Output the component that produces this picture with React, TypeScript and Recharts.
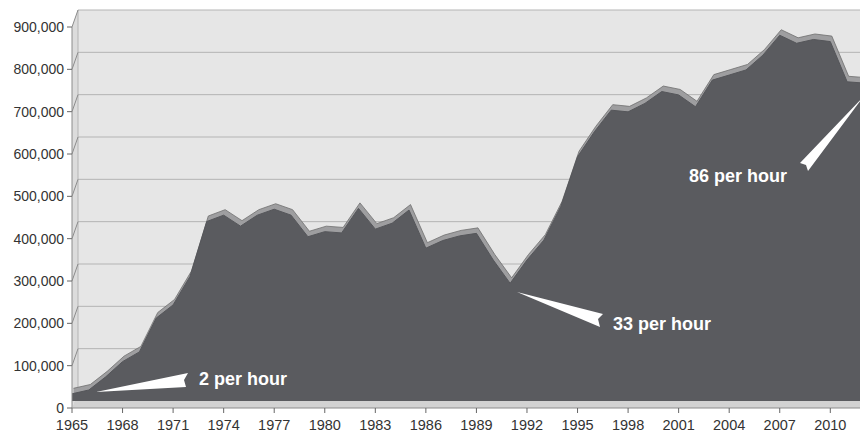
import React from "react";
import { AreaChart, Area, XAxis, YAxis, CartesianGrid } from "recharts";

const years = [
  1965, 1966, 1967, 1968, 1969, 1970, 1971, 1972, 1973, 1974, 1975, 1976,
  1977, 1978, 1979, 1980, 1981, 1982, 1983, 1984, 1985, 1986, 1987, 1988,
  1989, 1990, 1991, 1992, 1993, 1994, 1995, 1996, 1997, 1998, 1999, 2000,
  2001, 2002, 2003, 2004, 2005, 2006, 2007, 2008, 2009, 2010, 2011, 2012,
];
const totals = [
  17000, 26000, 57000, 93000, 116000, 196000, 227000, 294000, 424000, 439000,
  413000, 439000, 453000, 439000, 388000, 400000, 397000, 455000, 406000,
  420000, 451000, 361000, 379000, 390000, 396000, 333000, 278000, 333000,
  380000, 459000, 577000, 636000, 687000, 683000, 703000, 731000, 723000,
  695000, 758000, 770000, 782000, 817000, 864000, 845000, 854000, 849000,
  754000, 751000,
];
const xTicks = [1965, 1968, 1971, 1974, 1977, 1980, 1983, 1986, 1989, 1992, 1995, 1998, 2001, 2004, 2007, 2010];
const yTicks = [0, 100000, 200000, 300000, 400000, 500000, 600000, 700000, 800000, 900000];
const calloutLabels = ["2 per hour", "33 per hour", "86 per hour"];

const data = years.map((year, i) => ({ year, value: totals[i] }));

const W = 860;
const H = 433;
const LEFT = 72;
const TOP = 27;
const BOTTOM = 408;
const DX = 6;
const DY = 17;
const FONT = "'Liberation Sans', Arial, Helvetica, sans-serif";

const YTick = (props: any) => {
  const { x, y, payload } = props;
  return (
    <g>
      {payload.value !== 0 && (
        <line x1={LEFT} y1={y} x2={LEFT + DX} y2={y - DY} stroke="#8c8c8c" strokeWidth={1} />
      )}
      <text x={x} y={y} dy={5} textAnchor="end" fill="#333" fontSize={14} fontFamily={FONT}>
        {Number(payload.value).toLocaleString("en-US")}
      </text>
    </g>
  );
};

export default function App() {
  return (
    <div style={{ position: "relative", width: W, height: H, overflow: "hidden", background: "#fff" }}>
      <style>{`
        body { margin: 0; }
        .recharts-cartesian-grid { transform: translate(${DX}px, -${DY}px); }
        .ribbon { transform: translate(1.5px, -12.5px); }
        .front { transform: translate(0px, -7px); }
      `}</style>

      {/* walls and floor of the 3d box */}
      <svg width={W} height={H} style={{ position: "absolute", left: 0, top: 0 }}>
        <rect x={LEFT + DX} y={TOP - DY} width={W} height={BOTTOM - TOP} fill="#e6e6e6" />
        <polygon
          points={`${LEFT},${TOP} ${LEFT + DX},${TOP - DY} ${LEFT + DX},${BOTTOM - DY} ${LEFT},${BOTTOM}`}
          fill="#dcdcdc"
        />
        <line x1={LEFT + DX} y1={TOP - DY} x2={LEFT + DX} y2={BOTTOM - DY} stroke="#b4b4b4" />
        <polygon
          points={`${LEFT},${BOTTOM} ${W + 10},${BOTTOM} ${W + 10},${BOTTOM - DY} ${LEFT + DX},${BOTTOM - DY}`}
          fill="#d2d2d2"
        />
      </svg>

      <div style={{ position: "absolute", left: 0, top: 0 }}>
        <AreaChart width={864} height={H} data={data} margin={{ top: TOP, right: 0, bottom: 0, left: 0 }}>
          <CartesianGrid vertical={false} stroke="#b4b4b4" />
          <XAxis
            dataKey="year"
            type="number"
            domain={[1965, 2012]}
            ticks={xTicks}
            interval={0}
            height={25}
            tickSize={5}
            tickMargin={7}
            axisLine={{ stroke: "#8c8c8c" }}
            tickLine={{ stroke: "#666" }}
            tick={{ fill: "#333", fontSize: 14.5, fontFamily: FONT }}
          />
          <YAxis
            domain={[0, 900000]}
            ticks={yTicks}
            interval={0}
            width={LEFT}
            tickSize={5}
            tickMargin={3}
            axisLine={{ stroke: "#8c8c8c" }}
            tickLine={{ stroke: "#666" }}
            tick={<YTick />}
          />
          <Area
            className="ribbon"
            type="linear"
            dataKey="value"
            fill="#9e9ea0"
            fillOpacity={1}
            stroke="#6e6e6e"
            strokeWidth={0.8}
            isAnimationActive={false}
          />
          <Area
            className="front"
            type="linear"
            dataKey="value"
            fill="#5a5b5f"
            fillOpacity={1}
            stroke="#55565a"
            strokeWidth={1}
            isAnimationActive={false}
          />
        </AreaChart>
      </div>

      {/* callouts */}
      <svg width={W} height={H} style={{ position: "absolute", left: 0, top: 0, pointerEvents: "none" }}>
        <polygon points="96,392 188,373 184,380 186,387" fill="#fff" />
        <polygon points="517,292 603,314 598,319 600,327" fill="#fff" />
        <polygon points="864,96 800,163 806,165 808,171" fill="#fff" />
        <g fill="#fff" fontFamily={FONT} fontWeight="bold" fontSize={18}>
          <text x={199} y={385}>{calloutLabels[0]}</text>
          <text x={613} y={330}>{calloutLabels[1]}</text>
          <text x={689} y={182}>{calloutLabels[2]}</text>
        </g>
      </svg>
    </div>
  );
}
